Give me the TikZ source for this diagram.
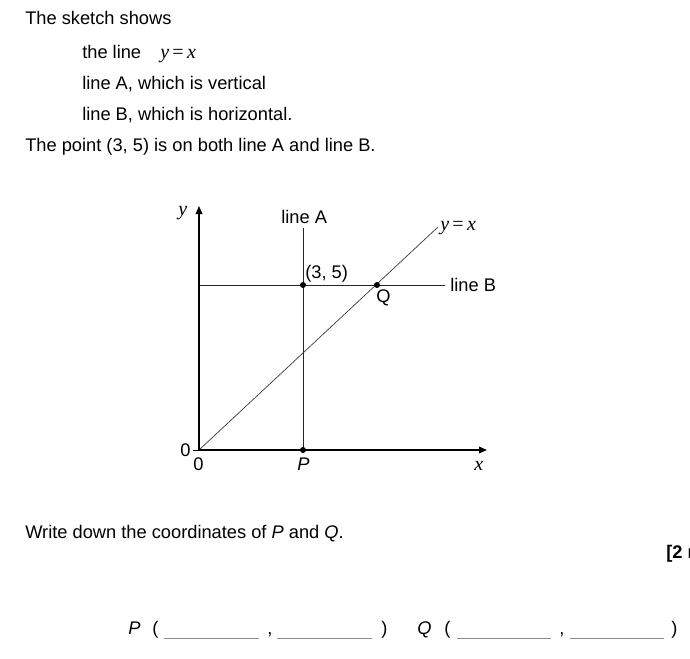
\documentclass[tikz,border=0pt]{standalone}
\usepackage{fontspec}
\setmainfont{Liberation Sans}
\newfontfamily\mathser{Liberation Serif}
\usetikzlibrary{arrows.meta}
\newcommand{\mv}[1]{{\mathser\itshape #1}}
\newcommand{\eqyx}{{\fontsize{15}{16}\selectfont\mv{y}\,{\mathser=}\,\mv{x}}}
\begin{document}
\begin{tikzpicture}[x=0.75pt,y=-0.75pt,
  txt/.style={anchor=base west,inner sep=0pt,font=\fontsize{13.7}{16}\selectfont},
  axis/.style={line width=1.1pt,-{Triangle[length=6pt,width=5pt]}},
  thinline/.style={line width=0.6pt,black!85},
  diag/.style={line width=0.5pt,black!80},
  dot/.style={circle,fill=black,inner sep=0pt,minimum size=4.5pt},
  blank/.style={line width=0.6pt,black!45}]
\useasboundingbox (0,0) rectangle (690,658);
% heading text
\node[txt] (t1) at (25,24) {The sketch shows};
\node[txt] (t2) at (82,58) {the line};
\node[txt] (t2m) at (160,58) {\eqyx};
\node[txt] (t3) at (82,89) {line A, which is vertical};
\node[txt] (t4) at (82,120) {line B, which is horizontal.};
\node[txt] (t5) at (25,151) {The point (3, 5) is on both line A and line B.};
% coordinates
\coordinate (O) at (199,450);
\coordinate (ytop) at (199,206);
\coordinate (xend) at (487,450);
\coordinate (Atop) at (303,228);
\coordinate (Bleft) at (199,285);
\coordinate (Bright) at (445,285);
\coordinate (Dend) at (438,227);
\coordinate (tick) at (193,450);
% lines
\draw[thinline] (Atop) -- (303,450);
\draw[thinline] (Bleft) -- (Bright);
\draw[diag] (O) -- (Dend);
\draw[axis] (O) -- (ytop);
\draw[axis] (O) -- (xend);
\draw[line width=0.6pt] (tick) -- (O);
% points
\node[dot] (pt35) at (303,285) {};
\node[dot] (Qd) at (377,285) {};
\node[dot] (Pd) at (303,450) {};
% labels
\node[txt] (ylab) at (178,215) {\fontsize{15}{16}\selectfont\mv{y}};
\node[txt] (lA) at (281,223) {line A};
\node[txt] (yx) at (440,230) {\eqyx};
\node[txt] (l35) at (305,278) {(3, 5)};
\node[txt] (lB) at (450,291) {line B};
\node[txt] (lQ) at (376,302) {Q};
\node[txt] (z1) at (180,456) {0};
\node[txt] (z2) at (193,470) {0};
\node[txt] (lP) at (297,470) {\itshape P};
\node[txt] (xlab) at (474,470) {\fontsize{15}{16}\selectfont\mv{x}};
% question
\node[txt] (q) at (25,538) {Write down the coordinates of \textit{P} and \textit{Q}.};
\node[txt] (mk) at (666,558) {\bfseries [2 marks]};
% answer line
\node[txt] (aP) at (128,634) {\itshape P};
\node[txt] (o1) at (152,634) {(};
\draw[blank] (164,638) -- (259,638);
\node[txt] (c1) at (267,634) {,};
\draw[blank] (277,638) -- (372,638);
\node[txt] (e1) at (381,634) {)};
\node[txt] (aQ) at (417,634) {\itshape Q};
\node[txt] (o2) at (444,634) {(};
\draw[blank] (457,638) -- (551,638);
\node[txt] (c2) at (559,634) {,};
\draw[blank] (570,638) -- (664,638);
\node[txt] (e2) at (671,634) {)};
\end{tikzpicture}
\end{document}
